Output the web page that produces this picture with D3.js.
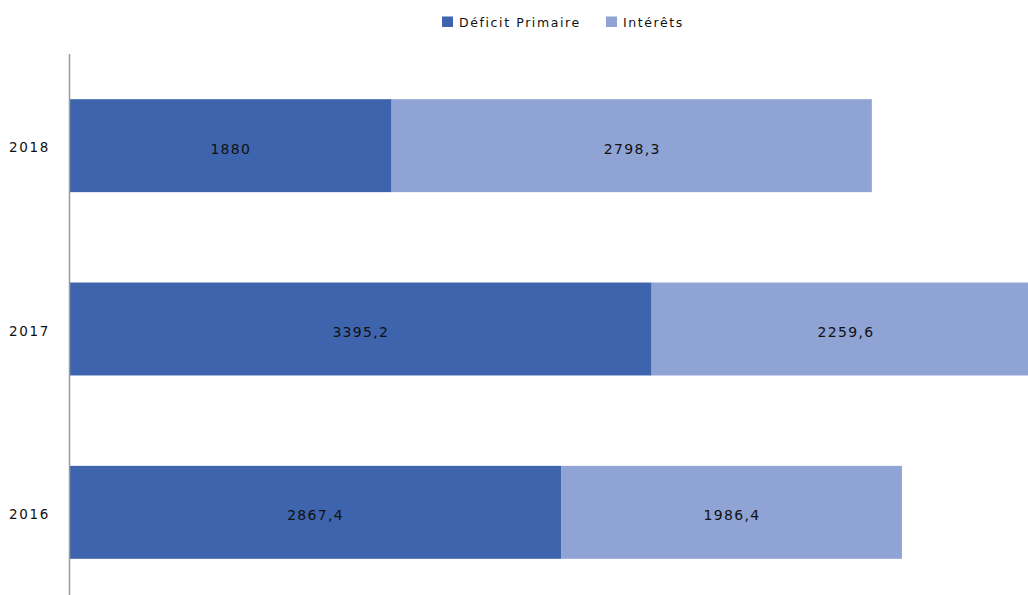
<!DOCTYPE html>
<html>
<head>
<meta charset="utf-8">
<script src="https://d3js.org/d3.v7.min.js"></script>
<style>
  html, body { margin: 0; padding: 0; background: #fff; }
  svg { display: block; font-family: "DejaVu Sans", "Liberation Sans", Arial, sans-serif; }
</style>
</head>
<body>
<svg id="chart" width="1028" height="595"></svg>
<script>
// Years, top to bottom
const years = ["2018", "2017", "2016"];
const seriesNames = ["Déficit Primaire", "Intérêts"];
const deficitPrimaire = [1880, 3395.2, 2867.4];
const interets = [2798.3, 2259.6, 1986.4];
const colors = ["#3D64AD", "#8FA3D5"];

const fmt = v => String(v).replace(".", ",");

const svg = d3.select("#chart");
const W = 1028, H = 595;

const x = d3.scaleLinear().domain([0, 5600]).range([69, 1030]);
const y = d3.scaleBand().domain(years).range([54, 604])
  .paddingInner(0.493).paddingOuter(0.2465);

const rows = years.map((yr, i) => ({ year: yr, values: [deficitPrimaire[i], interets[i]] }));
const stacked = d3.stack().keys([0, 1]).value((d, k) => d.values[k])(rows);

const layers = svg.append("g").selectAll("g").data(stacked).join("g")
  .attr("fill", (d, i) => colors[i]);

layers.selectAll("rect").data(d => d).join("rect")
  .attr("x", d => x(d[0]))
  .attr("y", d => y(d.data.year))
  .attr("width", d => x(d[1]) - x(d[0]))
  .attr("height", y.bandwidth());

// value labels centered in each segment (kept inside the visible area)
layers.each(function(layer, li) {
  d3.select(this).selectAll("text").data(layer).join("text")
    .attr("x", d => Math.min((x(d[0]) + x(d[1])) / 2, (x(d[0]) + W) / 2 + 12) + 0.5)
    .attr("y", d => y(d.data.year) + y.bandwidth() / 2 + 3)
    .attr("dy", "0.35em")
    .attr("text-anchor", "middle")
    .attr("fill", "#111")
    .attr("font-size", 14)
    .attr("letter-spacing", 1.3)
    .text(d => fmt(d.data.values[li]));
});

// vertical axis line with year labels
svg.append("line")
  .attr("x1", 69.5).attr("x2", 69.5)
  .attr("y1", 54).attr("y2", H)
  .attr("stroke", "#9a9a9a").attr("stroke-width", 1.5);

svg.append("g").selectAll("text").data(years).join("text")
  .attr("x", 29.5)
  .attr("y", d => y(d) + y.bandwidth() / 2 + 2)
  .attr("dy", "0.35em")
  .attr("text-anchor", "middle")
  .attr("fill", "#111")
  .attr("font-size", 13.5)
  .attr("letter-spacing", 1.6)
  .text(d => d);

// legend
const legend = svg.append("g");
const legendItems = [
  { name: seriesNames[0], color: colors[0], x: 442 },
  { name: seriesNames[1], color: colors[1], x: 606 }
];
legendItems.forEach(it => {
  legend.append("rect").attr("x", it.x).attr("y", 16.5).attr("width", 11).attr("height", 10.5).attr("fill", it.color);
  legend.append("text").attr("x", it.x + 17).attr("y", 27)
    .attr("font-size", 12.5).attr("letter-spacing", 1.6).attr("fill", "#111").text(it.name);
});
</script>
</body>
</html>
